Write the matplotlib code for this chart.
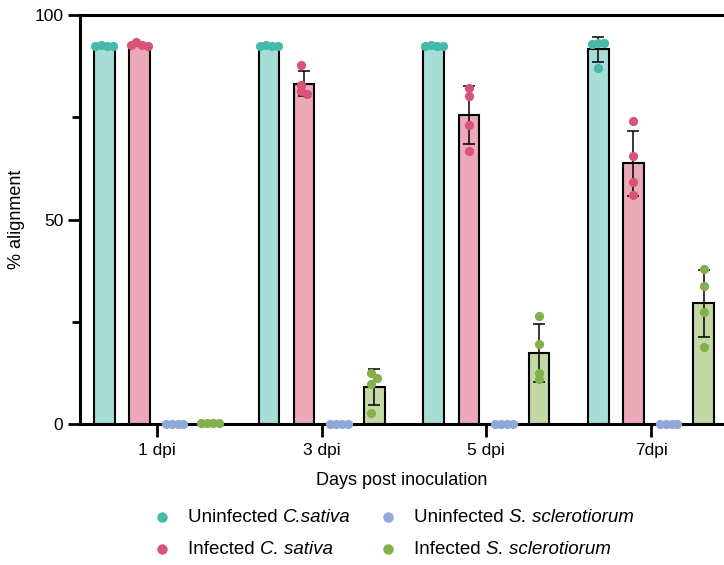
import matplotlib.pyplot as plt
import numpy as np

plt.rcParams['font.family'] = ['Liberation Sans', 'DejaVu Sans']

days = ["1 dpi", "3 dpi", "5 dpi", "7dpi"]
# legend labels: (plain part, italic part)
series = [("Uninfected ", "C.sativa"), ("Infected ", "C. sativa"),
          ("Uninfected ", "S. sclerotiorum"), ("Infected ", "S. sclerotiorum")]

# replicate values (4 per day)
unif_cs = [[92.3, 92.6, 92.4, 92.5], [92.4, 92.6, 92.3, 92.5],
           [92.3, 92.6, 92.4, 92.5], [93.1, 93.0, 93.2, 87.0]]
inf_cs = [[92.6, 93.3, 92.5, 92.7], [87.7, 83.0, 81.5, 80.8],
          [82.1, 80.3, 73.1, 66.8], [74.2, 65.5, 59.1, 56.1]]
unif_ss = [[0, 0, 0, 0], [0, 0, 0, 0], [0, 0, 0, 0], [0.1, 0.0, 0.1, 0.0]]
inf_ss = [[0.3, 0.3, 0.2, 0.3], [12.4, 11.3, 9.9, 2.6],
          [26.4, 19.5, 12.4, 10.9], [37.8, 33.7, 27.5, 18.9]]
all_data = [unif_cs, inf_cs, unif_ss, inf_ss]

bar_cols = ["#a6ddd7", "#eba8b9", "#b7c6e6", "#c4d8a6"]
dot_cols = ["#45b9aa", "#d9527a", "#8fa8d8", "#84b04b"]

W, H = 724, 565
fig = plt.figure(figsize=(W/100, H/100), dpi=100)
ax = fig.add_axes([80/W, 1-424/H, 1-80/W, (424-15)/H])

xs = np.arange(len(days))
step = 0.213
width = 0.125
px_x = 164.67  # pixels per x unit
px_y = 4.09    # pixels per y unit
dot_d = 8.5    # dot diameter in px


def swarm(vals):
    # simple beeswarm, points may overlap a bit like in Prism
    order = np.argsort(vals)[::-1]
    placed = []
    offs = np.zeros(len(vals))
    cands = [0]
    for j in range(1, 12):
        cands += [j * 0.35, -j * 0.35]
    for i in order:
        for c in cands:
            ok = True
            for (ox, oy) in placed:
                dx = (c - ox) * dot_d
                dy = (vals[i] - oy) * px_y
                if dx * dx + dy * dy < (dot_d * 0.7) ** 2:
                    ok = False
                    break
            if ok:
                offs[i] = c
                placed.append((c, vals[i]))
                break
    offs = offs - (offs.max() + offs.min()) / 2
    return offs * dot_d / px_x


for s, data in enumerate(all_data):
    arr = np.array(data, dtype=float)
    means = arr.mean(axis=1)
    sds = arr.std(axis=1, ddof=1)
    pos = xs + (s - 1.5) * step
    ax.bar(pos, means, width, color=bar_cols[s], edgecolor="black", linewidth=1.5, zorder=2)
    ax.errorbar(pos, means, yerr=sds, fmt="none", ecolor="black", elinewidth=1.1,
                capsize=4.5, capthick=1.1, zorder=3)
    for g in range(len(days)):
        offs = swarm(arr[g])
        ax.scatter(pos[g] + offs, arr[g], s=44, color=dot_cols[s], linewidths=0,
                   zorder=4, clip_on=False)

ax.set_xlim(-77/px_x, 567/px_x)
ax.set_ylim(0, 100)
ax.set_yticks([0, 50, 100])
ax.set_yticks([25, 75], minor=True)
ax.set_xticks(xs)
ax.set_xticklabels(days)
ax.tick_params(axis="both", which="major", length=9, width=2, labelsize=12.5, pad=3)
ax.tick_params(axis="x", which="major", pad=5)
ax.tick_params(axis="y", which="minor", length=5.5, width=2)
ax.spines["right"].set_visible(False)
for sp in ["left", "bottom", "top"]:
    ax.spines[sp].set_linewidth(2.2)
ax.set_ylabel("% alignment", fontsize=13)
ax.yaxis.set_label_coords(-0.085, 0.5)
ax.set_xlabel("Days post inoculation", fontsize=13, labelpad=10)

# legend, drawn by hand so only the species names are italic
fig.canvas.draw()
r = fig.canvas.get_renderer()
mark_x = [162, 162, 388, 388]
row_y = [517, 549, 517, 549]
for k, (plain, ital) in enumerate(series):
    fig.add_artist(plt.Line2D([mark_x[k]/W], [1-row_y[k]/H], marker="o", markersize=7.5,
                              markerfacecolor=dot_cols[k], markeredgewidth=0,
                              linestyle="none", transform=fig.transFigure))
    t = fig.text((mark_x[k]+26)/W, 1-row_y[k]/H, plain, fontsize=13.5, va="center")
    bb = t.get_window_extent(renderer=r)
    fig.text(bb.x1/W, 1-row_y[k]/H, ital, fontsize=13.5, va="center", style="italic")

fig.savefig("out.png", dpi=100)
